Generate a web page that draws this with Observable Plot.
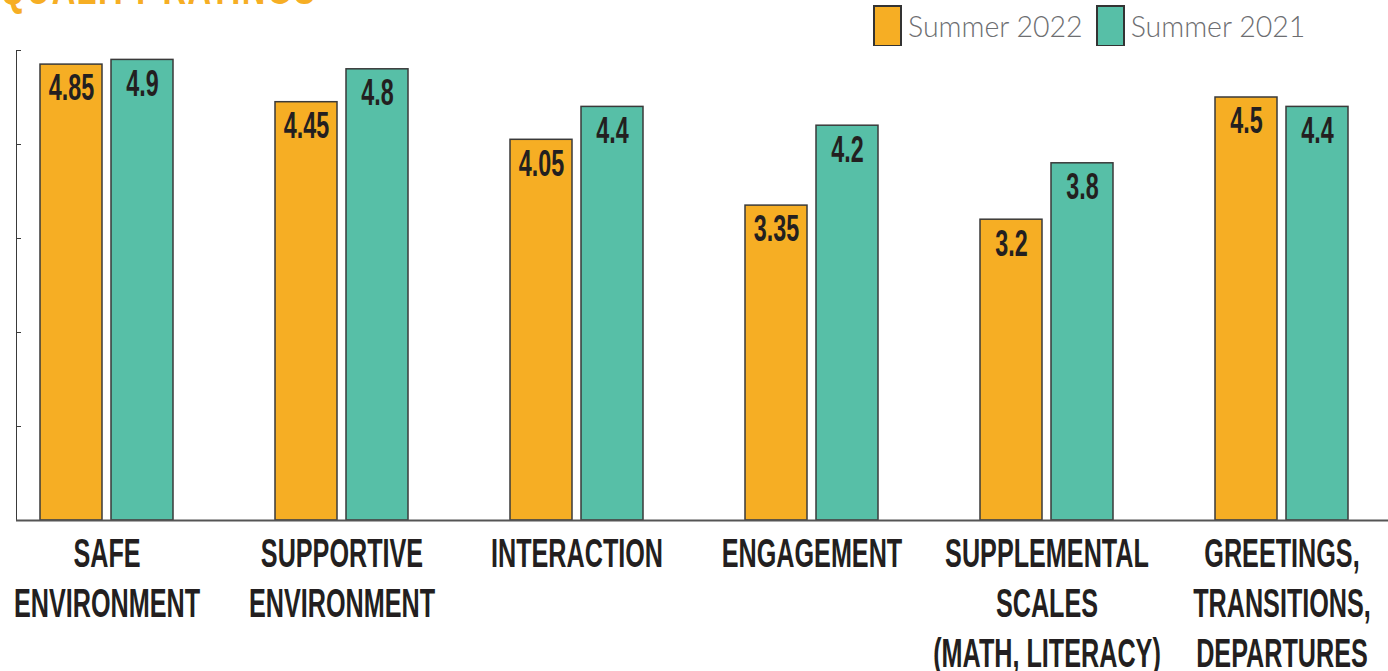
<!DOCTYPE html>
<html>
<head>
<meta charset="utf-8">
<script src="https://cdn.jsdelivr.net/npm/d3@7"></script>
<script src="https://cdn.jsdelivr.net/npm/@observablehq/plot@0.6"></script>
<style>
  body { margin: 0; background: #fff; width: 1388px; overflow: hidden; }
  #header { position: relative; height: 46px; overflow: hidden; }
  #title { position: absolute; left: 0; top: -40px; font: bold 48px "Liberation Sans", sans-serif; color: #F6AE24; white-space: nowrap; letter-spacing: 2px; transform: scaleX(0.68); transform-origin: 0 0; }
  #legend { position: absolute; left: 873px; top: 5px; display: flex; align-items: center; font-family: Lato, sans-serif; font-weight: 300; font-size: 28.5px; color: #6d6e71; }
  .sw { width: 25px; height: 38px; border: 2px solid #333; box-sizing: content-box; margin-right: 6px; }
  .item { display: flex; align-items: center; margin-right: 13px; }
</style>
</head>
<body>
<div id="header">
  <div id="title">QUALITY RATINGS</div>
  <div id="legend"></div>
</div>
<div id="chart"></div>
<script>
const categories = ["SAFE\nENVIRONMENT", "SUPPORTIVE\nENVIRONMENT", "INTERACTION", "ENGAGEMENT", "SUPPLEMENTAL\nSCALES\n(MATH, LITERACY)", "GREETINGS,\nTRANSITIONS,\nDEPARTURES"];
const summer2022 = [4.85, 4.45, 4.05, 3.35, 3.2, 4.5];
const summer2021 = [4.9, 4.8, 4.4, 4.2, 3.8, 4.4];
const seriesNames = ["Summer 2022", "Summer 2021"];
const seriesColors = ["#F6AE24", "#57BFA7"];
const yTicks = [1, 2, 3, 4, 5];

const rows2022 = categories.map((c, i) => ({cat: c, value: summer2022[i]}));
const rows2021 = categories.map((c, i) => ({cat: c, value: summer2021[i]}));

// legend
const legend = document.getElementById("legend");
seriesNames.forEach((n, i) => {
  const it = document.createElement("div");
  it.className = "item";
  it.innerHTML = `<div class="sw" style="background:${seriesColors[i]}"></div><span>${n}</span>`;
  legend.appendChild(it);
});

const condensed = "Liberation Sans Narrow, Liberation Sans, sans-serif";
const ink = "#231f20";

const plot = Plot.plot({
  width: 1388,
  height: 625,
  marginTop: 4,
  marginBottom: 151,
  marginLeft: 16,
  marginRight: 0,
  x: {domain: categories, range: [16, 1372], paddingInner: 0.432, paddingOuter: 0.097, axis: null},
  y: {domain: [0, 5], ticks: yTicks, tickFormat: () => "", tickSize: -5, line: true, label: null},
  style: {color: "#3a3a3a", background: "transparent"},
  marks: [
    Plot.barY(rows2022, {x: "cat", y: "value", fill: seriesColors[0], stroke: "#3a3a3a", strokeWidth: 1.5, insetRight: 71}),
    Plot.barY(rows2021, {x: "cat", y: "value", fill: seriesColors[1], stroke: "#3a3a3a", strokeWidth: 1.5, insetLeft: 71}),
    Plot.ruleY([0], {stroke: "#555", strokeWidth: 2}),
    Plot.text(rows2022, {x: "cat", y: "value", text: d => String(d.value), dx: -35.5, dy: 24, lineAnchor: "middle", fontSize: 37, fontWeight: "bold", fontFamily: condensed, fill: ink}),
    Plot.text(rows2021, {x: "cat", y: "value", text: d => String(d.value), dx: 35.5, dy: 24, lineAnchor: "middle", fontSize: 37, fontWeight: "bold", fontFamily: condensed, fill: ink}),
    Plot.text(categories, {x: d => d, text: d => d, frameAnchor: "bottom", lineAnchor: "top", dy: 11, lineHeight: 1.25, fontSize: 40, fontWeight: "bold", fontFamily: condensed, fill: ink})
  ]
});
document.getElementById("chart").appendChild(plot);

// condense the bold label typeface horizontally (style only)
plot.querySelectorAll("g[aria-label='text'] text").forEach(t => {
  const tr = t.getAttribute("transform") || "";
  t.setAttribute("transform", tr + " scale(0.63,1)");
});
</script>
</body>
</html>
